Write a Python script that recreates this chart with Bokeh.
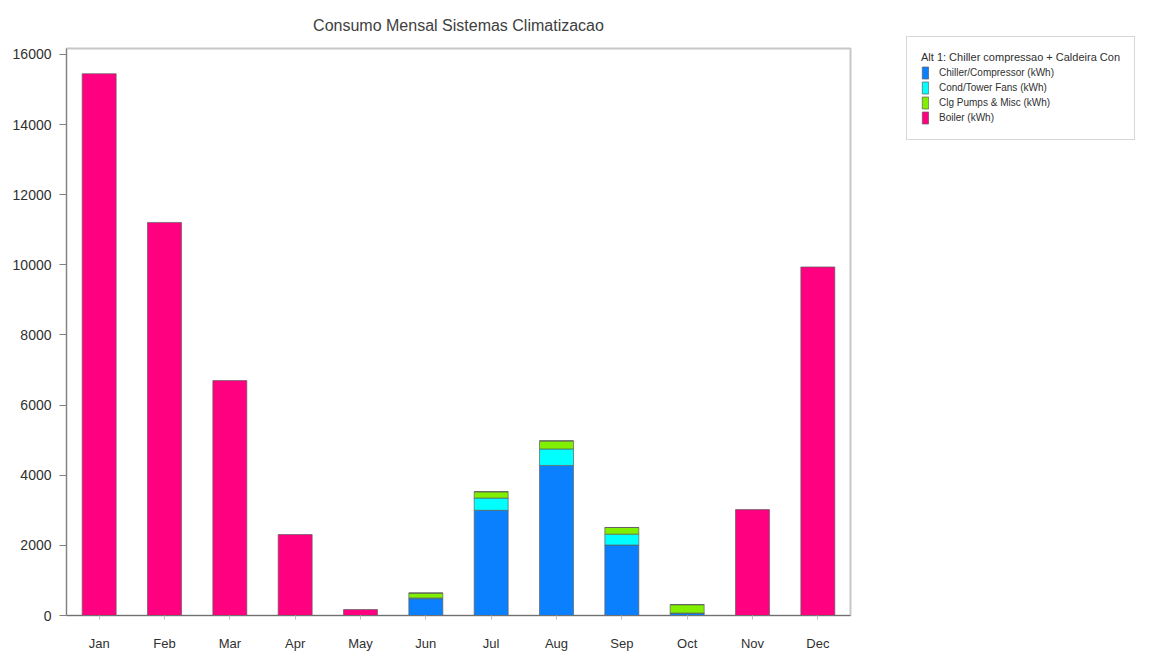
from bokeh.plotting import figure
from bokeh.layouts import row
from bokeh.models import ColumnDataSource, FactorRange, Range1d, Legend, LegendItem, FixedTicker
from bokeh.embed import file_html
from bokeh.resources import INLINE

months = ["Jan", "Feb", "Mar", "Apr", "May", "Jun", "Jul", "Aug", "Sep", "Oct", "Nov", "Dec"]
chiller = [0, 0, 0, 0, 0, 480, 3000, 4280, 2010, 60, 0, 0]
cond_fans = [0, 0, 0, 0, 0, 20, 350, 470, 310, 10, 0, 0]
clg_pumps = [0, 0, 0, 0, 0, 140, 180, 230, 190, 240, 0, 0]
boiler = [15450, 11210, 6700, 2310, 170, 0, 0, 0, 0, 0, 3020, 9940]

series = ["chiller", "cond_fans", "clg_pumps", "boiler"]
labels = ["Chiller/Compressor (kWh)", "Cond/Tower Fans (kWh)", "Clg Pumps & Misc (kWh)", "Boiler (kWh)"]
colors = ["#0a80ff", "#00ffff", "#80f000", "#ff0080"]
legend_title = "Alt 1: Chiller compressao + Caldeira Con"
chart_title = "Consumo Mensal Sistemas Climatizacao"

source = ColumnDataSource(dict(months=months, chiller=chiller, cond_fans=cond_fans,
                               clg_pumps=clg_pumps, boiler=boiler))

FONT = "Liberation Sans"
H = 653

p = figure(width=860, height=H, x_range=FactorRange(*months), y_range=Range1d(0, 16170),
           output_backend="svg", toolbar_location=None, title=chart_title,
           min_border_left=66, min_border_right=10, min_border_top=47, min_border_bottom=38)
p.frame_align = False

renderers = p.vbar_stack(series, x="months", width=0.52, source=source, color=colors,
                         line_color="#606060", line_alpha=0.7, line_width=1)

p.title.align = "center"
p.title.text_font = FONT
p.title.text_font_size = "16px"
p.title.text_font_style = "normal"
p.title.text_color = "#404040"
p.title.standoff = 29

p.xgrid.visible = False
p.ygrid.visible = False
p.outline_line_color = "#c8c8c8"
p.outline_line_width = 2
p.background_fill_color = "white"
p.border_fill_color = "white"

p.yaxis.ticker = FixedTicker(ticks=[0, 2000, 4000, 6000, 8000, 10000, 12000, 14000, 16000])
p.yaxis.minor_tick_line_color = None
p.yaxis.major_tick_in = 0
p.yaxis.major_tick_out = 7
p.yaxis.axis_line_color = "#808080"
p.yaxis.major_tick_line_color = "#808080"
p.yaxis.major_label_text_font = FONT
p.yaxis.major_label_text_font_size = "14px"
p.yaxis.major_label_text_color = "#303030"
p.yaxis.major_label_standoff = 8

p.xaxis.axis_line_color = "#707070"
p.xaxis.major_tick_in = 0
p.xaxis.major_tick_out = 4
p.xaxis.major_tick_line_color = "#b0c0d0"
p.xaxis.major_label_text_font = FONT
p.xaxis.major_label_text_font_size = "13px"
p.xaxis.major_label_text_color = "#303030"
p.xaxis.major_label_standoff = 16

# Legend panel (separate figure so the legend is not clipped by the chart frame)
q = figure(width=284, height=H, x_range=Range1d(0, 1), y_range=Range1d(0, 1),
           output_backend="svg", toolbar_location=None,
           min_border_left=46, min_border_right=0, min_border_top=36, min_border_bottom=0)
q.frame_align = False
q.axis.visible = False
q.xgrid.visible = False
q.ygrid.visible = False
q.outline_line_color = None

leg_renderers = []
for c in colors:
    r = q.vbar(x=[-10], top=[0], width=0.5, fill_color=c, line_color="#606060", line_alpha=0.7)
    leg_renderers.append(r)

items = [LegendItem(label=lab, renderers=[r]) for lab, r in zip(labels, leg_renderers)]
legend = Legend(items=items, location="top_left", title=legend_title,
                title_text_font=FONT, title_text_font_size="11px", title_text_font_style="normal",
                title_text_color="#303030", title_standoff=2,
                label_text_font=FONT, label_text_font_size="10px", label_text_color="#303030",
                glyph_width=8, glyph_height=15, label_height=15, label_standoff=10, spacing=0,
                padding=14, margin=0, border_line_color="#b0b0b0", border_line_width=1,
                background_fill_color="white")
q.add_layout(legend, "center")

layout = row(p, q, spacing=0)
open("out.html", "w").write(file_html(layout, INLINE))
